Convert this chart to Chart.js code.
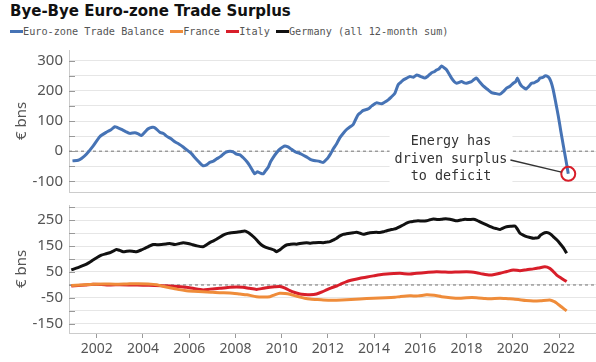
<!DOCTYPE html>
<html>
<head>
<meta charset="utf-8">
<script src="https://cdn.jsdelivr.net/npm/chart.js@4"></script>
<style>
  body { margin: 0; width: 596px; height: 362px; background: #fff; position: relative; overflow: hidden; }
  #title { position: absolute; left: 10px; top: 2px; font: bold 15px "DejaVu Sans"; color: #111; white-space: nowrap; }
  #legend { position: absolute; left: 10px; top: 26px; font: 10.2px "DejaVu Sans Mono"; color: #555; white-space: nowrap; }
  #legend .key { display: inline-block; width: 13px; height: 3px; vertical-align: middle; margin-top: -2px; }
  canvas { position: absolute; left: 0; }
  #top { top: 45px; }
  #bottom { top: 197px; }
</style>
</head>
<body>
<div id="title">Bye-Bye Euro-zone Trade Surplus</div>
<div id="legend"></div>
<canvas id="top" width="596" height="150"></canvas>
<canvas id="bottom" width="596" height="165"></canvas>
<script>
// euro-zone trade balance, 12-month sum, € bn
const euroYears = [2000.95, 2001.2, 2001.34, 2001.55, 2001.84, 2002.13, 2002.42, 2002.6, 2002.78, 2002.9,
  2003.07, 2003.25, 2003.43, 2003.65, 2003.8, 2003.93, 2004.1, 2004.22, 2004.4, 2004.51,
  2004.73, 2004.9, 2005.02, 2005.2, 2005.38, 2005.55, 2005.74, 2005.95, 2006.1, 2006.24,
  2006.45, 2006.6, 2006.75, 2006.89, 2007.05, 2007.18, 2007.35, 2007.47, 2007.6, 2007.76,
  2007.9, 2008.05, 2008.2, 2008.33, 2008.5, 2008.62, 2008.75, 2008.84, 2008.95, 2009.06,
  2009.2, 2009.3, 2009.42, 2009.52, 2009.63, 2009.78, 2009.92, 2010.05, 2010.14, 2010.25,
  2010.36, 2010.5, 2010.64, 2010.75, 2010.86, 2011.05, 2011.22, 2011.35, 2011.51, 2011.65,
  2011.8, 2011.9, 2012.01, 2012.12, 2012.23, 2012.38, 2012.52, 2012.65, 2012.81, 2012.95,
  2013.1, 2013.2, 2013.31, 2013.42, 2013.53, 2013.74, 2013.9, 2014.1, 2014.32, 2014.45,
  2014.61, 2014.75, 2014.9, 2015.04, 2015.15, 2015.26, 2015.41, 2015.55, 2015.7, 2015.84,
  2016.0, 2016.2, 2016.35, 2016.49, 2016.6, 2016.7, 2016.8, 2016.92, 2017.03, 2017.14,
  2017.25, 2017.35, 2017.47, 2017.57, 2017.68, 2017.78, 2017.9, 2018.0, 2018.12, 2018.22,
  2018.32, 2018.43, 2018.58, 2018.72, 2018.9, 2019.08, 2019.25, 2019.45, 2019.6, 2019.73,
  2019.88, 2020.02, 2020.12, 2020.2, 2020.3, 2020.38, 2020.48, 2020.57, 2020.7, 2020.81,
  2020.92, 2021.03, 2021.1, 2021.18, 2021.3, 2021.39, 2021.5, 2021.58, 2021.66, 2021.75,
  2021.86, 2021.97, 2022.08, 2022.19, 2022.3, 2022.4];
const euroBalance = [-32, -30, -24, -10, 17, 48, 63, 70, 81, 78,
  72, 65, 59, 61, 57, 52, 65, 74, 79, 78,
  63, 58, 50, 42, 31, 24, 14, 1, -8, -21,
  -38, -48, -45, -37, -33, -26, -18, -10, -3, 0,
  -2, -10, -12, -21, -35, -48, -65, -75, -68, -72,
  -75, -65, -53, -35, -21, -5, 7, 14, 17, 15,
  10, 2, -4, -6, -10, -18, -26, -30, -32, -34,
  -37, -30, -21, -8, 7, 25, 45, 58, 72, 80,
  89, 105, 121, 128, 135, 140, 150, 160, 157, 162,
  170, 180, 192, 220, 228, 236, 242, 247, 245, 252,
  248, 242, 250, 260, 263, 269, 272, 282, 276, 269,
  255, 242, 230, 225, 228, 231, 226, 225, 228, 231,
  237, 242, 228, 216, 205, 194, 191, 189, 198, 209,
  215, 225, 230, 242, 225, 216, 210, 206, 215, 225,
  226, 231, 234, 242, 244, 249, 248, 242, 228, 203,
  160, 116, 65, 17, -30, -75];

const germanyYears = [2000.9, 2001.19, 2001.48, 2001.65, 2001.84, 2002.0, 2002.2, 2002.4, 2002.56, 2002.7,
  2002.85, 2003.0, 2003.14, 2003.3, 2003.43, 2003.6, 2003.72, 2003.93, 2004.1, 2004.22,
  2004.44, 2004.6, 2004.8, 2005.0, 2005.16, 2005.38, 2005.55, 2005.74, 2005.95, 2006.15,
  2006.31, 2006.6, 2006.75, 2006.89, 2007.05, 2007.18, 2007.32, 2007.47, 2007.6, 2007.76,
  2008.05, 2008.2, 2008.4, 2008.55, 2008.7, 2008.85, 2008.98, 2009.12, 2009.27, 2009.42,
  2009.56, 2009.68, 2009.78, 2009.9, 2010.0, 2010.1, 2010.21, 2010.35, 2010.5, 2010.65,
  2010.79, 2011.08, 2011.25, 2011.44, 2011.6, 2011.8, 2011.95, 2012.09, 2012.25, 2012.38,
  2012.5, 2012.66, 2012.8, 2012.95, 2013.1, 2013.24, 2013.4, 2013.53, 2013.68, 2013.82,
  2014.1, 2014.25, 2014.4, 2014.55, 2014.68, 2014.85, 2014.97, 2015.12, 2015.26, 2015.4,
  2015.55, 2015.7, 2015.9, 2016.1, 2016.27, 2016.42, 2016.56, 2016.75, 2016.92, 2017.1,
  2017.28, 2017.42, 2017.57, 2017.75, 2017.93, 2018.1, 2018.29, 2018.45, 2018.58, 2018.72,
  2018.87, 2019.0, 2019.16, 2019.3, 2019.45, 2019.6, 2019.73, 2019.9, 2020.1, 2020.2,
  2020.31, 2020.45, 2020.6, 2020.75, 2020.89, 2021.0, 2021.1, 2021.2, 2021.32, 2021.45,
  2021.54, 2021.65, 2021.75, 2021.9, 2022.04, 2022.2, 2022.33];
const germanyBalance = [58, 67, 77, 85, 96, 105, 115, 120, 124, 130,
  137, 133, 128, 130, 131, 129, 128, 135, 142, 147,
  156, 155, 156, 158, 160, 156, 159, 163, 160, 155,
  151, 147, 155, 163, 170, 176, 184, 192, 197, 200,
  203, 205, 208, 202, 192, 180, 167, 155, 147, 142,
  138, 134, 128, 134, 141, 148, 154, 156, 158, 157,
  160, 163, 161, 163, 164, 163, 165, 167, 174, 180,
  188, 195, 197, 199, 201, 203, 199, 195, 198, 201,
  203, 202, 205, 209, 212, 215, 218, 225, 231, 238,
  243, 245, 247, 246, 247, 251, 254, 252, 253, 255,
  253, 250, 247, 250, 253, 252, 253, 249, 243, 237,
  231, 226, 220, 217, 214, 220, 224, 226, 227, 215,
  199, 192, 186, 183, 180, 181, 182, 192, 199, 202,
  201, 195, 186, 174, 160, 142, 122];

const italyYears = [2000.9, 2001.2, 2001.5, 2001.84, 2002.2, 2002.6, 2003.0, 2003.5, 2004.0, 2004.5,
  2005.16, 2005.5, 2005.88, 2006.2, 2006.6, 2006.9, 2007.32, 2007.76, 2008.05, 2008.33,
  2008.6, 2008.91, 2009.2, 2009.49, 2009.7, 2009.92, 2010.15, 2010.36, 2010.6, 2010.79,
  2011.0, 2011.22, 2011.51, 2011.75, 2011.94, 2012.15, 2012.38, 2012.6, 2012.81, 2013.1,
  2013.39, 2013.7, 2013.97, 2014.25, 2014.54, 2014.85, 2015.12, 2015.55, 2015.84, 2016.25,
  2016.7, 2017.0, 2017.28, 2017.6, 2018.0, 2018.2, 2018.43, 2018.7, 2019.01, 2019.2,
  2019.45, 2019.75, 2020.02, 2020.31, 2020.6, 2020.89, 2021.1, 2021.39, 2021.6, 2021.75,
  2021.9, 2022.1, 2022.33];
const italyBalance = [-4, -2, 0, 3, 2, 0, 1, 0, -1, -2,
  -4, -6, -9, -14, -19, -16, -13, -9, -8, -9,
  -13, -17, -13, -9, -7, -6, -12, -22, -30, -35,
  -37, -38, -35, -27, -19, -11, -4, 5, 13, 20,
  26, 31, 35, 39, 42, 44, 45, 42, 45, 48,
  51, 50, 49, 50, 51, 50, 47, 42, 38, 40,
  45, 52, 58, 55, 59, 62, 65, 70, 64, 52,
  38, 26, 13];

const franceYears = [2000.9, 2001.3, 2001.84, 2002.3, 2002.8, 2003.3, 2003.8, 2004.22, 2004.6, 2004.9,
  2005.16, 2005.5, 2005.88, 2006.2, 2006.6, 2006.95, 2007.32, 2007.76, 2008.19, 2008.5,
  2008.91, 2009.2, 2009.49, 2009.7, 2009.92, 2010.15, 2010.36, 2010.6, 2010.79, 2011.0,
  2011.22, 2011.5, 2011.8, 2012.2, 2012.6, 2013.0, 2013.39, 2013.97, 2014.5, 2014.9,
  2015.12, 2015.55, 2015.9, 2016.27, 2016.6, 2016.92, 2017.3, 2017.7, 2018.0, 2018.43,
  2018.8, 2019.01, 2019.45, 2019.8, 2020.02, 2020.3, 2020.57, 2020.89, 2021.2, 2021.6,
  2021.8, 2021.9, 2022.1, 2022.33];
const franceBalance = [-2, 0, 3, 4, 3, 4, 5, 4, 1, -6,
  -11, -17, -22, -24, -26, -28, -30, -31, -35, -38,
  -45, -46, -45, -38, -32, -33, -36, -42, -47, -51,
  -54, -56, -58, -59, -58, -56, -54, -51, -49, -47,
  -45, -42, -42, -38, -40, -45, -49, -51, -49, -49,
  -52, -53, -51, -53, -54, -57, -60, -62, -61, -58,
  -64, -70, -84, -100];

const seriesNames = ["Euro-zone Trade Balance", "France", "Italy", "Germany (all 12-month sum)"];
const seriesColors = ["#4673b5", "#ef8c3a", "#d81e2a", "#111111"];

const xTickYears = [2002, 2004, 2006, 2008, 2010, 2012, 2014, 2016, 2018, 2020, 2022];
const topGridValues = [-100, -50, 0, 50, 100, 150, 200, 250, 300];
const topTickLabels = [-100, 0, 100, 200, 300];
const bottomGridValues = [-150, -100, -50, 0, 50, 100, 150, 200, 250, 300];
const bottomTickLabels = [-150, -50, 50, 150, 250];
const noteLines = ["Energy has", "driven surplus", "to deficit"];

const xMin = 2000.8, xMax = 2023.6;

// legend
const legend = document.getElementById("legend");
legend.innerHTML = seriesNames
  .map((n, i) => `<span class="key" style="background:${seriesColors[i]}"></span>${n}`)
  .join(" ");

Chart.defaults.font.family = "Noto Sans";
Chart.defaults.color = "#555";

const pts = (xs, ys) => xs.map((x, i) => ({ x: x, y: ys[i] }));
const zeroLine = () => ({
  data: [{ x: xMin, y: 0 }, { x: xMax, y: 0 }],
  borderColor: "#888",
  borderWidth: 1.2,
  borderDash: [3, 3],
  pointRadius: 0,
  order: 10,
});
const lineSet = (xs, ys, color, order) => ({
  data: pts(xs, ys),
  borderColor: color,
  borderWidth: 3,
  pointRadius: 0,
  tension: 0.2,
  order: order,
});

// short dark tick marks just inside the left axis
const innerTicks = {
  id: "innerTicks",
  beforeDatasetsDraw(chart) {
    const { ctx, chartArea, scales } = chart;
    ctx.save();
    ctx.strokeStyle = "#999";
    ctx.lineWidth = 1;
    scales.y.ticks.forEach((t) => {
      const py = Math.round(scales.y.getPixelForValue(t.value)) + 0.5;
      ctx.beginPath();
      ctx.moveTo(chartArea.left, py);
      ctx.lineTo(chartArea.left + 6, py);
      ctx.stroke();
    });
    ctx.restore();
  },
};

const yScale = (min, max, grid, labels) => ({
  min: min,
  max: max,
  afterBuildTicks: (s) => { s.ticks = grid.map((v) => ({ value: v })); },
  afterFit: (s) => { s.width = 69; s.paddingTop = 0; s.paddingBottom = 0; },
  ticks: {
    autoSkip: false,
    padding: 6,
    font: { size: 15 },
    color: "#555",
    callback: (v) => (labels.includes(v) ? String(v) : ""),
  },
  grid: { color: "#e6e6e6", drawTicks: false },
  border: { color: "#ccc" },
  title: { display: true, text: "€ bns", font: { size: 15 }, color: "#555", padding: { top: 13, bottom: 0 } },
});

// annotation for the last euro-zone point
const energyNote = {
  id: "energyNote",
  afterDatasetsDraw(chart) {
    const { ctx } = chart;
    const cx = 451;
    const ys = [97, 115, 132];
    ctx.save();
    ctx.font = '13.4px "DejaVu Sans Mono"';
    const widths = noteLines.map((l) => ctx.measureText(l).width);
    const maxW = Math.max(...widths);
    ctx.fillStyle = "#fff";
    ctx.fillRect(cx - maxW / 2 - 5, ys[0] - 11, maxW + 10, ys[2] - ys[0] + 22);
    ctx.fillStyle = "#333";
    ctx.textAlign = "center";
    ctx.textBaseline = "middle";
    noteLines.forEach((l, i) => ctx.fillText(l, cx, ys[i]));
    const pt = chart.getDatasetMeta(1).data[0];
    const sx = cx + widths[1] / 2 + 3, sy = ys[1];
    const ang = Math.atan2(pt.y - sy, pt.x - sx);
    ctx.strokeStyle = "#333";
    ctx.lineWidth = 1.3;
    ctx.beginPath();
    ctx.moveTo(sx, sy);
    ctx.lineTo(pt.x - Math.cos(ang) * 7, pt.y - Math.sin(ang) * 7);
    ctx.stroke();
    ctx.restore();
  },
};

const last = euroYears.length - 1;

new Chart(document.getElementById("top"), {
  type: "line",
  data: {
    datasets: [
      lineSet(euroYears, euroBalance, seriesColors[0], 1),
      {
        data: [{ x: euroYears[last], y: euroBalance[last] }],
        showLine: false,
        pointRadius: 7,
        pointBorderWidth: 2,
        pointBorderColor: "#d81e2a",
        pointBackgroundColor: "rgba(0,0,0,0)",
        order: 0,
      },
      zeroLine(),
    ],
  },
  options: {
    responsive: false,
    animation: false,
    devicePixelRatio: 1,
    layout: { autoPadding: false, padding: { top: 5, right: 0, left: 0, bottom: 0 } },
    plugins: { legend: { display: false }, tooltip: { enabled: false } },
    scales: {
      x: {
        type: "linear",
        min: xMin,
        max: xMax,
        afterFit: (s) => { s.height = 3; s.paddingLeft = 0; s.paddingRight = 0; },
        ticks: { display: false },
        grid: { drawOnChartArea: false, drawTicks: false },
        border: { color: "#ccc" },
      },
      y: yScale(-135, 335, topGridValues, topTickLabels),
    },
  },
  plugins: [innerTicks, energyNote],
});

new Chart(document.getElementById("bottom"), {
  type: "line",
  data: {
    datasets: [
      lineSet(franceYears, franceBalance, seriesColors[1], 1),
      lineSet(italyYears, italyBalance, seriesColors[2], 2),
      lineSet(germanyYears, germanyBalance, seriesColors[3], 3),
      zeroLine(),
    ],
  },
  options: {
    responsive: false,
    animation: false,
    devicePixelRatio: 1,
    layout: { autoPadding: false, padding: { top: 8, right: 0, left: 0, bottom: 0 } },
    plugins: { legend: { display: false }, tooltip: { enabled: false } },
    scales: {
      x: {
        type: "linear",
        min: xMin,
        max: xMax,
        afterBuildTicks: (s) => { s.ticks = xTickYears.map((v) => ({ value: v })); },
        afterFit: (s) => { s.height = 29; s.paddingLeft = 0; s.paddingRight = 0; },
        ticks: { autoSkip: false, maxRotation: 0, padding: 3, font: { size: 14 }, color: "#555", callback: (v) => String(v) },
        grid: { drawOnChartArea: false, tickLength: 5, color: "#999" },
        border: { color: "#ccc" },
      },
      y: yScale(-185, 308, bottomGridValues, bottomTickLabels),
    },
  },
  plugins: [innerTicks],
});
</script>
</body>
</html>
